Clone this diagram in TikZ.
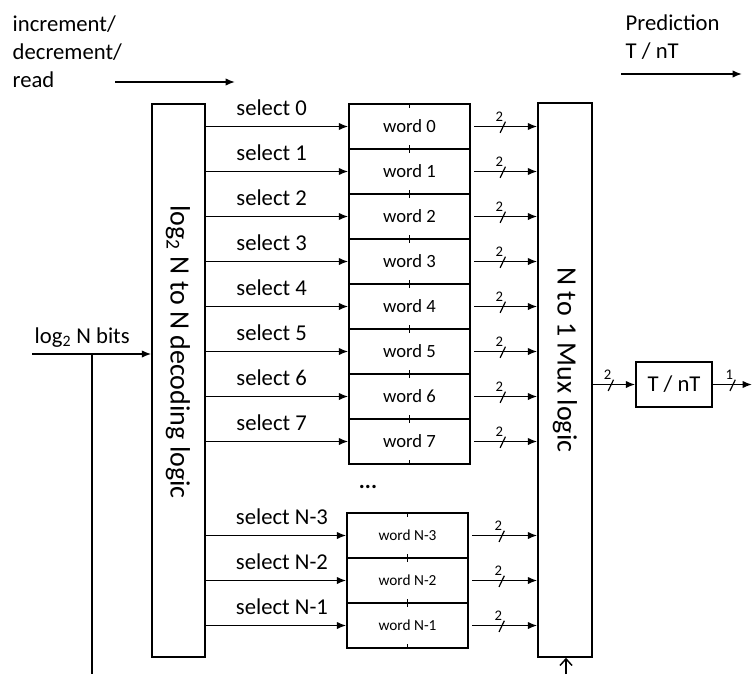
\documentclass[tikz,border=0pt]{standalone}
\usepackage{fontspec}
\setmainfont{Carlito}
\usepackage{tikz}
\usetikzlibrary{arrows,arrows.meta}
\usetikzlibrary{decorations.markings}
\newcommand{\midtxt}{\fontsize{17}{21}\selectfont}
\newcommand{\rottxt}{\fontsize{21}{25}\selectfont}
\newcommand{\wordtxt}{\fontsize{14}{16}\selectfont}
\newcommand{\wordNtxt}{\fontsize{11.5}{14}\selectfont}
\newcommand{\bustxt}{\fontsize{11}{11}\selectfont}
\tikzstyle{block}=[rectangle, draw=black, inner sep=0pt]
\tikzstyle{word}=[block, minimum width=90.75pt, minimum height=33.75pt, font=\wordtxt]
\tikzstyle{sel}=[anchor=base west, inner sep=0pt, yshift=8pt, font=\midtxt]
\tikzstyle{txt}=[anchor=north west, inner sep=0pt, align=left, font=\midtxt]
\tikzset{>={Latex[length=7pt,width=5.5pt]}}
\tikzset{bus/.style 2 args={postaction={decorate}, decoration={markings,
  mark=at position #1 with {\draw[-, line width=0.9pt] (-1.8pt,-4.8pt) -- (2.2pt,3.6pt);
  \node[font=\bustxt, inner sep=0pt, anchor=base] at (-2.3pt,3.6pt) {#2};}}}}

\begin{document}
\begin{tikzpicture}[x=0.75pt, y=-0.75pt, line width=1.1pt]
  \useasboundingbox (0,0) rectangle (756,674);

  \node at (178.5,380.5) [block, minimum width=39.75pt, minimum height=414.75pt] (dec) {};
  \node at (178,352) [rotate=-90, font=\rottxt] (declbl) {log\textsubscript{2} N to N decoding logic};
  \node at (565,380) [block, minimum width=40.5pt, minimum height=415.5pt] (mux) {};
  \node at (565,360) [rotate=-90, font=\rottxt] (muxlbl) {N to 1 Mux logic};
  \node at (674,384.5) [block, minimum width=57pt, minimum height=33.75pt, font=\midtxt] (tnt) {T / nT};

  \foreach \i in {0,...,7}
    \node at (409.5,126.5+45*\i) [word] (w\i) {word \i};
  \foreach \i/\y in {3/535.5, 2/580.5, 1/625.5}
    \node at (407.5,\y) [word, font=\wordNtxt] (wN\i) {word N-\i};
  \node at (368,487) [font=\midtxt\bfseries] (dots) {...};

  \foreach \w in {w0,w1,w2,w3,w4,w5,w6,w7,wN3,wN2,wN1}
  {
    \draw (\w.north) -- ++(0,5) (\w.south) -- ++(0,-5);
    \draw [->, bus={0.45}{2}] ([xshift=2.5pt]\w.east) -- (mux.west |- \w);
  }
  \foreach \i in {0,...,7}
    \draw [->] (dec.east |- w\i) -- (w\i.west) node[pos=.21, sel] {select \i};
  \foreach \i in {3,2,1}
    \draw [->] (dec.east |- wN\i) -- (wN\i.west) node[pos=.21, sel] {select N-\i};

  \draw [->, bus={0.42}{2}] (mux.east |- tnt) -- (tnt.west);
  \coordinate (pout) at (752,384.5);
  \draw [->, bus={0.5}{1}] (tnt.east) -- (pout);

  \node at (34,343) [anchor=base west, inner sep=0pt, font=\midtxt] (nlbl) {log\textsubscript{2} N bits};
  \coordinate (nin) at (32,354);
  \coordinate (ntap) at (92,354);
  \coordinate (nend) at (92,674);
  \draw [->] (nin) -- (dec.west |- nin);
  \draw (ntap) -- (nend);

  \coordinate (muxsel) at (566,674);
  \draw [-{Straight Barb[length=5pt,width=9pt]}] (muxsel) -- (mux.south -| muxsel);

  \node at (12,15) [txt] (ctl) {increment/\\decrement/\\read};
  \coordinate (ctlin) at (115,82);
  \coordinate (ctlout) at (235,82);
  \draw [->] (ctlin) -- (ctlout);

  \node at (625,14) [txt] (pred) {Prediction\\T / nT};
  \coordinate (predin) at (621,74);
  \coordinate (predout) at (742,74);
  \draw [->] (predin) -- (predout);
\end{tikzpicture}
\end{document}
